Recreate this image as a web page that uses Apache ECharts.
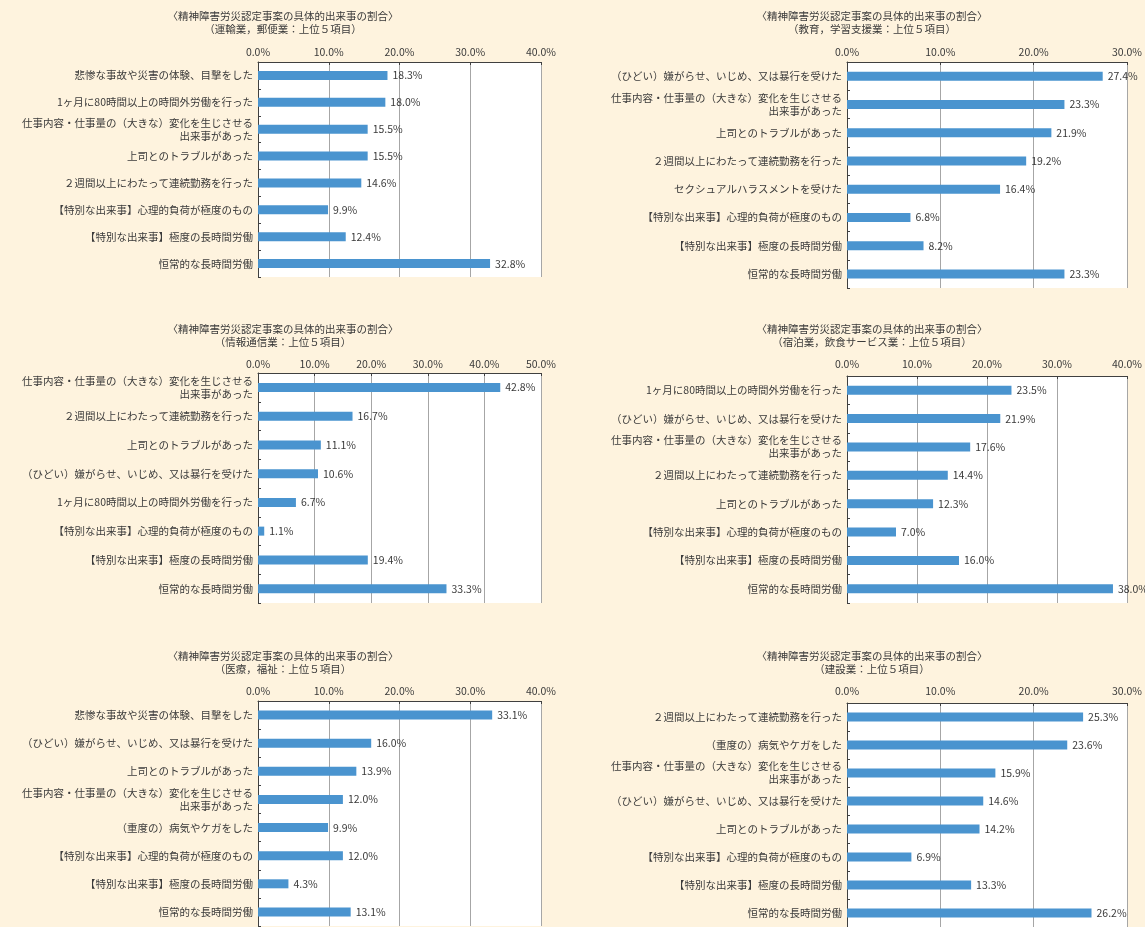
<!DOCTYPE html>
<html>
<head>
<meta charset="utf-8">
<script src="https://cdn.jsdelivr.net/npm/echarts@6/dist/echarts.min.js"></script>
<style>
html,body{margin:0;padding:0;background:#FEF3DE;}
#c{width:1145px;height:927px;}
</style>
</head>
<body>
<div id="c"></div>
<script>
// ---- data ----
const titleMain = '〈精神障害労災認定事案の具体的出来事の割合〉';
const subtitles = [
  '（運輸業，郵便業：上位５項目）',
  '（教育，学習支援業：上位５項目）',
  '（情報通信業：上位５項目）',
  '（宿泊業，飲食サービス業：上位５項目）',
  '（医療，福祉：上位５項目）',
  '（建設業：上位５項目）'
];
const cats1 = ['悲惨な事故や災害の体験、目撃をした','1ヶ月に80時間以上の時間外労働を行った','仕事内容・仕事量の（大きな）変化を生じさせる\n出来事があった','上司とのトラブルがあった','２週間以上にわたって連続勤務を行った','【特別な出来事】心理的負荷が極度のもの','【特別な出来事】極度の長時間労働','恒常的な長時間労働'];
const vals1 = [18.3, 18.0, 15.5, 15.5, 14.6, 9.9, 12.4, 32.8];
const cats2 = ['（ひどい）嫌がらせ、いじめ、又は暴行を受けた','仕事内容・仕事量の（大きな）変化を生じさせる\n出来事があった','上司とのトラブルがあった','２週間以上にわたって連続勤務を行った','セクシュアルハラスメントを受けた','【特別な出来事】心理的負荷が極度のもの','【特別な出来事】極度の長時間労働','恒常的な長時間労働'];
const vals2 = [27.4, 23.3, 21.9, 19.2, 16.4, 6.8, 8.2, 23.3];
const cats3 = ['仕事内容・仕事量の（大きな）変化を生じさせる\n出来事があった','２週間以上にわたって連続勤務を行った','上司とのトラブルがあった','（ひどい）嫌がらせ、いじめ、又は暴行を受けた','1ヶ月に80時間以上の時間外労働を行った','【特別な出来事】心理的負荷が極度のもの','【特別な出来事】極度の長時間労働','恒常的な長時間労働'];
const vals3 = [42.8, 16.7, 11.1, 10.6, 6.7, 1.1, 19.4, 33.3];
const cats4 = ['1ヶ月に80時間以上の時間外労働を行った','（ひどい）嫌がらせ、いじめ、又は暴行を受けた','仕事内容・仕事量の（大きな）変化を生じさせる\n出来事があった','２週間以上にわたって連続勤務を行った','上司とのトラブルがあった','【特別な出来事】心理的負荷が極度のもの','【特別な出来事】極度の長時間労働','恒常的な長時間労働'];
const vals4 = [23.5, 21.9, 17.6, 14.4, 12.3, 7.0, 16.0, 38.0];
const cats5 = ['悲惨な事故や災害の体験、目撃をした','（ひどい）嫌がらせ、いじめ、又は暴行を受けた','上司とのトラブルがあった','仕事内容・仕事量の（大きな）変化を生じさせる\n出来事があった','（重度の）病気やケガをした','【特別な出来事】心理的負荷が極度のもの','【特別な出来事】極度の長時間労働','恒常的な長時間労働'];
const vals5 = [33.1, 16.0, 13.9, 12.0, 9.9, 12.0, 4.3, 13.1];
const cats6 = ['２週間以上にわたって連続勤務を行った','（重度の）病気やケガをした','仕事内容・仕事量の（大きな）変化を生じさせる\n出来事があった','（ひどい）嫌がらせ、いじめ、又は暴行を受けた','上司とのトラブルがあった','【特別な出来事】心理的負荷が極度のもの','【特別な出来事】極度の長時間労働','恒常的な長時間労働'];
const vals6 = [25.3, 23.6, 15.9, 14.6, 14.2, 6.9, 13.3, 26.2];
const axisMax = [40, 30, 50, 40, 40, 30];

// ---- layout ----
const FONT = '"Noto Sans CJK JP", "Noto Sans", sans-serif';
const TXT = '#3a3a3a';
const panels = [
  {cats: cats1, vals: vals1, left: 258, top: 62, width: 283, height: 215, tcx: 283, ty: 10, margin: 5},
  {cats: cats2, vals: vals2, left: 847, top: 62, width: 284, height: 226, tcx: 872, ty: 10, margin: 5},
  {cats: cats3, vals: vals3, left: 258, top: 373, width: 283, height: 230, tcx: 283, ty: 323, margin: 4},
  {cats: cats4, vals: vals4, left: 847, top: 376, width: 284, height: 227, tcx: 872, ty: 323, margin: 7},
  {cats: cats5, vals: vals5, left: 258, top: 701, width: 283, height: 225, tcx: 283, ty: 650, margin: 5},
  {cats: cats6, vals: vals6, left: 847, top: 703, width: 284, height: 226, tcx: 872, ty: 650, margin: 7}
];

const option = {
  backgroundColor: '#FEF3DE',
  animation: false,
  textStyle: {fontFamily: FONT},
  title: [], grid: [], xAxis: [], yAxis: [], series: []
};

panels.forEach((p, i) => {
  option.title.push({
    text: titleMain + '\n' + subtitles[i],
    left: p.tcx, top: p.ty, textAlign: 'center',
    padding: 0,
    textStyle: {fontSize: 10.5, fontWeight: 'normal', color: TXT, lineHeight: 13, fontFamily: FONT}
  });
  option.grid.push({
    left: p.left, top: p.top, width: p.width, height: p.height,
    show: true, backgroundColor: '#ffffff', borderWidth: 0, containLabel: false
  });
  option.xAxis.push({
    type: 'value', gridIndex: i, position: 'top',
    min: 0, max: axisMax[i], interval: 10,
    axisLine: {show: true, lineStyle: {color: '#404040', width: 1}},
    axisTick: {show: true, inside: true, length: 3, lineStyle: {color: '#404040'}},
    splitLine: {show: true, lineStyle: {color: '#a6a6a6', width: 1}},
    axisLabel: {
      margin: p.margin, fontSize: 10.5, color: TXT, fontFamily: FONT,
      formatter: v => v.toFixed(1) + '%'
    }
  });
  option.yAxis.push({
    type: 'category', gridIndex: i, inverse: true, data: p.cats,
    axisLine: {show: true, onZero: false, lineStyle: {color: '#404040', width: 1}},
    axisTick: {show: true, inside: true, length: 3, lineStyle: {color: '#404040'}},
    axisLabel: {
      interval: 0, margin: 5, fontSize: 10.5, color: TXT, fontFamily: FONT,
      lineHeight: 13, align: 'right'
    }
  });
  option.series.push({
    type: 'bar', xAxisIndex: i, yAxisIndex: i, data: p.vals,
    barWidth: 9,
    itemStyle: {color: '#4A94CF'},
    label: {
      show: true, position: 'right', distance: 5,
      fontSize: 10.5, color: TXT, fontFamily: FONT,
      formatter: d => d.value.toFixed(1) + '%'
    }
  });
});

const chart = echarts.init(document.getElementById('c'), null, {renderer: 'canvas'});
chart.setOption(option);
</script>
</body>
</html>
